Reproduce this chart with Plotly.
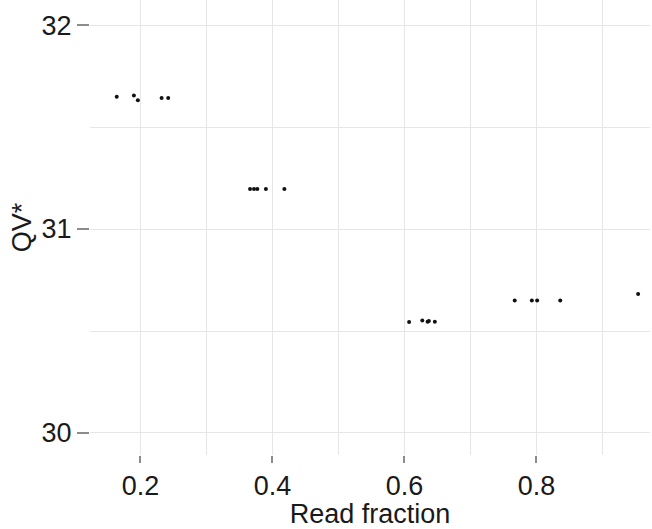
import plotly.graph_objects as go

read_fraction = [0.164, 0.190, 0.196, 0.232, 0.242,
                 0.366, 0.372, 0.377, 0.390, 0.418,
                 0.607, 0.627, 0.635, 0.637, 0.646,
                 0.767, 0.793, 0.801, 0.836,
                 0.954]
qv = [31.649, 31.655, 31.632, 31.642, 31.642,
      31.196, 31.196, 31.196, 31.196, 31.196,
      30.544, 30.552, 30.545, 30.549, 30.545,
      30.650, 30.650, 30.650, 30.650,
      30.681]

x_ticks = [0.2, 0.4, 0.6, 0.8]
y_ticks = [30, 31, 32]

font_family = "Arial, Liberation Sans, sans-serif"
grid = "#e6e6e6"

fig = go.Figure(go.Scatter(
    x=read_fraction, y=qv, mode="markers",
    marker=dict(size=4, color="#111111"),
    showlegend=False, cliponaxis=False,
))

fig.update_layout(
    width=652, height=529,
    margin=dict(l=90, r=2, t=0, b=74, autoexpand=False),
    paper_bgcolor="white", plot_bgcolor="white",
    font=dict(family=font_family, size=27, color="#1a1a1a"),
    xaxis=dict(
        range=[0.1235, 0.972], automargin=False,
        tickvals=x_ticks, ticktext=[f"{v:.1f}" for v in x_ticks],
        ticks="outside", ticklen=7, tickwidth=1.5, tickcolor="#8c8c8c",
        showgrid=True, gridcolor=grid, gridwidth=1.3,
        minor=dict(dtick=0.1, tick0=0.1, showgrid=True, gridcolor=grid, gridwidth=1.3, ticks=""),
        zeroline=False, showline=False,
        title=dict(text="Read fraction", font=dict(size=27), standoff=2),
    ),
    yaxis=dict(
        range=[29.892, 32.123], automargin=False,
        tickvals=y_ticks, ticktext=[str(v) for v in y_ticks],
        ticks="outside", ticklen=12, tickwidth=1.5, tickcolor="#8c8c8c",
        showgrid=True, gridcolor=grid, gridwidth=1.3,
        minor=dict(dtick=0.5, tick0=30, showgrid=True, gridcolor=grid, gridwidth=1.3, ticks=""),
        zeroline=False, showline=False,
        title=dict(text="QV*", font=dict(size=27), standoff=2),
    ),
)

fig.write_html("out.html", config={"displayModeBar": False},
               post_script="document.body.style.margin='0';document.body.style.overflow='hidden';")
